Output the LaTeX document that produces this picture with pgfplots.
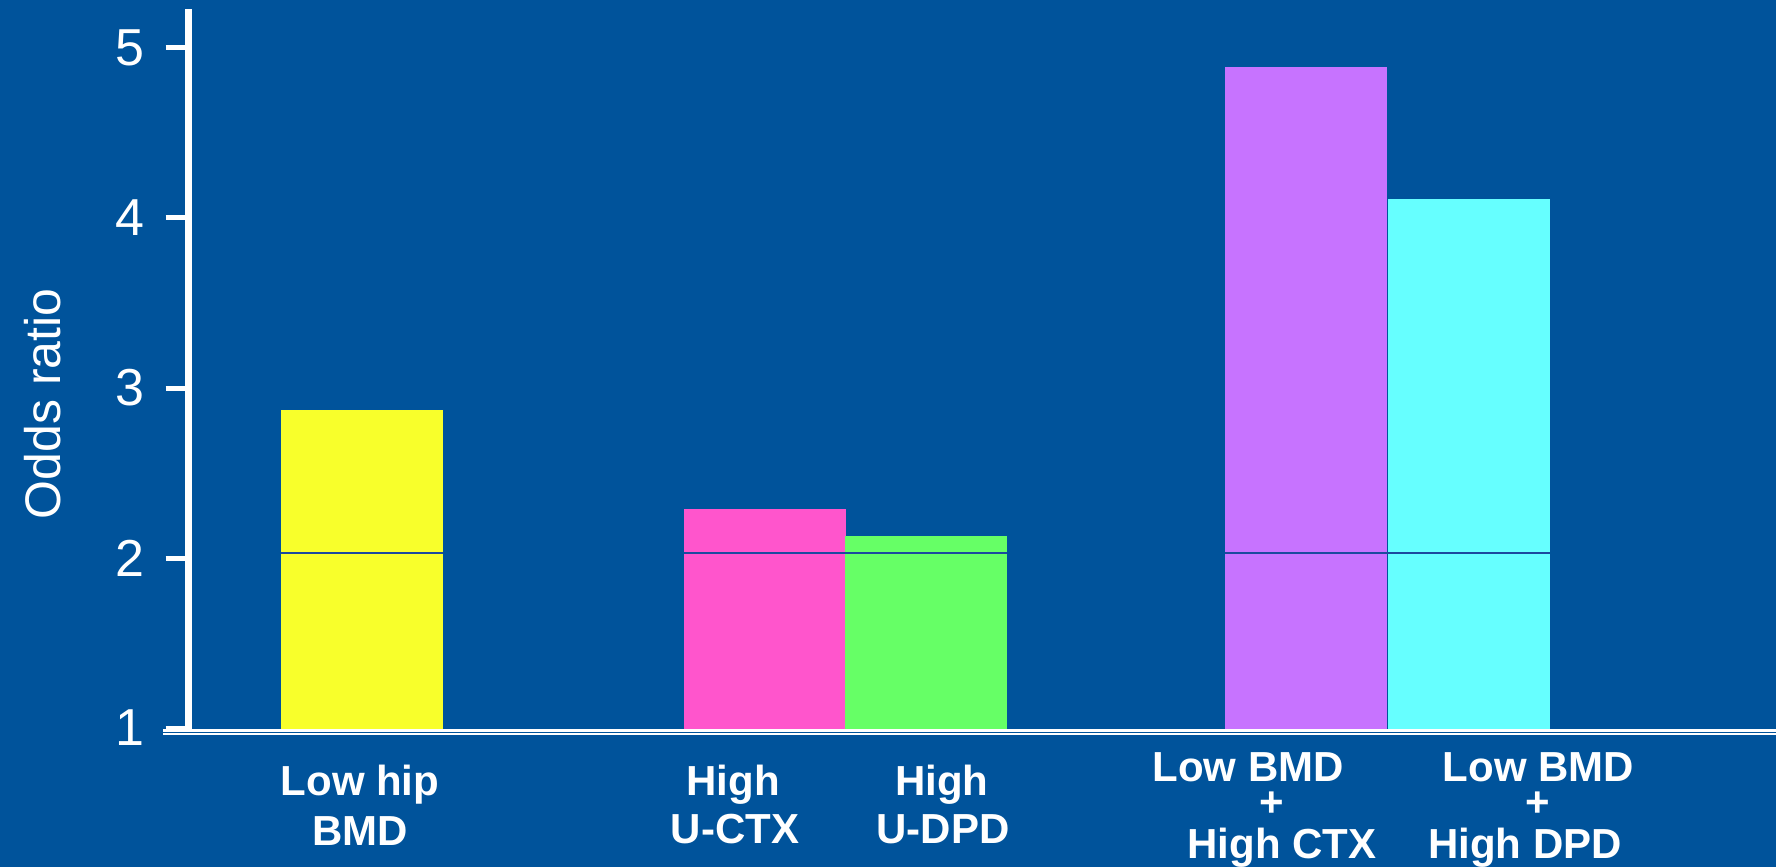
\documentclass[border=0pt]{standalone}
\usepackage{fontspec}
\setmainfont{Liberation Sans}
\usepackage{pgfplots}
\pgfplotsset{compat=1.18}
\definecolor{bg}{HTML}{00539B}
\definecolor{cyel}{HTML}{F8FF2B}
\definecolor{cpink}{HTML}{FF55CC}
\definecolor{cgreen}{HTML}{66FF66}
\definecolor{cpurp}{HTML}{C773FF}
\definecolor{ccyan}{HTML}{66FFFF}
\definecolor{refl}{HTML}{1C4A9E}
\newcommand{\lab}[3]{\node[anchor=base, text=white, font=\fontsize{21}{25}\selectfont\bfseries, inner sep=0pt] at ({#1*0.5pt},{(867-#2)*0.5pt}) {#3};}
\begin{document}
\begin{tikzpicture}
\useasboundingbox (0,0) rectangle (888pt,433.5pt);
\fill[bg] (0,0) rectangle (888pt,433.5pt);
\begin{axis}[
 at={(94.3pt,68.35pt)}, anchor=south west,
 scale only axis, width=793.7pt, height=360.65pt,
 xmin=1.886, xmax=17.76, ymin=0.987, ymax=5.229,
 axis x line=none, axis y line*=left,
 y axis line style={white, line width=3.65pt},
 ytick={1,2,3,4,5}, xtick=\empty,
 tick align=outside, major tick length=11.5pt,
 tick style={white, line width=2.5pt},
 yticklabel style={text=white, font=\fontsize{26}{30}\selectfont, xshift=-7pt},
 /pgf/number format/assume math mode=true,
 clip mode=individual,
 mybar/.style={ybar, bar width=1.62, bar shift=0pt, draw=none, fill=#1},
]
\addplot[mybar=cyel] coordinates {(3.62,2.87)};
\addplot[mybar=cpink] coordinates {(7.649,2.29)};
\addplot[mybar=cgreen] coordinates {(9.264,2.13)};
\addplot[mybar=cpurp] coordinates {(13.06,4.89)};
\addplot[mybar=ccyan] coordinates {(14.685,4.11)};
\addplot[refl, line width=0.6pt, sharp plot, mark=none] coordinates {(2.81,2.03) (4.43,2.03)};
\addplot[refl, line width=0.6pt, sharp plot, mark=none] coordinates {(6.84,2.03) (10.07,2.03)};
\addplot[refl, line width=0.6pt, sharp plot, mark=none] coordinates {(12.25,2.03) (15.50,2.03)};
\end{axis}
\draw[white, line width=1.35pt] (81.5pt,68.35pt) -- (890pt,68.35pt);
\draw[white, line width=1pt] (81.5pt,66.35pt) -- (890pt,66.35pt);
\node[rotate=90, anchor=base, text=white, font=\fontsize{25}{30}\selectfont, inner sep=0pt] at (30pt,231.6pt) {Odds ratio};
\lab{360}{795}{Low hip}
\lab{360}{845.7}{BMD}
\lab{733}{795}{High}
\lab{735}{843}{U-CTX}
\lab{941.7}{795}{High}
\lab{943}{843}{U-DPD}
\lab{1248}{781.7}{Low BMD}
\lab{1272}{816}{+}
\lab{1282}{858.3}{High CTX}
\lab{1538.6}{781.7}{Low BMD}
\lab{1537.5}{816}{+}
\lab{1525}{858.3}{High DPD}
\end{tikzpicture}
\end{document}
